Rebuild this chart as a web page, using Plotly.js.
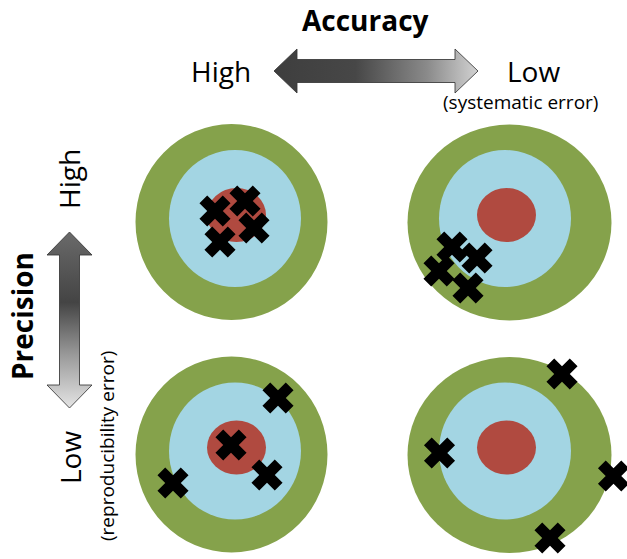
<!DOCTYPE html>
<html>
<head>
<meta charset="utf-8">
<script src="https://cdn.plot.ly/plotly-3.0.1.min.js"></script>
<style>
  html, body { margin: 0; padding: 0; background: #ffffff; }
  #chart { width: 627px; height: 559px; }
</style>
</head>
<body>
<div id="chart"></div>
<script>
// ---------------- data ----------------
// Axis labels
const accuracyTitle = 'Accuracy';
const precisionTitle = 'Precision';
const accuracyLevels = ['High', 'Low'];
const precisionLevels = ['High', 'Low'];
const accuracyNote = '(systematic error)';
const precisionNote = '(reproducibility error)';

// Hits on each target: offset from the bullseye (x right, y up), in target units
const hitsHighAccHighPrecX = [-20, 10, 19, -15];
const hitsHighAccHighPrecY = [7.5, 17.5, -9.5, -23.5];
const hitsLowAccHighPrecX  = [-53, -28, -66, -37];
const hitsLowAccHighPrecY  = [-28.5, -39.5, -52.5, -69.5];
const hitsHighAccLowPrecX  = [43, -4, 32, -62];
const hitsHighAccLowPrecY  = [53, 6, -24, -32];
const hitsLowAccLowPrecX   = [57, -65.5, 108.5, 45];
const hitsLowAccLowPrecY   = [77, -2, -25, -87];

// ---------------- layout / styling ----------------
const W = 627, H = 559;
const GREEN = '#85a24b', BLUE = '#a3d5e3', RED = '#b04a40';
const FONT = 'Open Sans, Lato, sans-serif';

// panel centres (screen space, y down)
const panelCenters = [
  {cx: 235, cy: 218.5, col: 0},
  {cx: 505, cy: 218.5, col: 1},
  {cx: 235, cy: 451,   col: 0},
  {cx: 505, cy: 451,   col: 1}
];
const hitSets = [
  [hitsHighAccHighPrecX, hitsHighAccHighPrecY],
  [hitsLowAccHighPrecX,  hitsLowAccHighPrecY],
  [hitsHighAccLowPrecX,  hitsHighAccLowPrecY],
  [hitsLowAccLowPrecX,   hitsLowAccLowPrecY]
];
// ring geometry per column
const greenRing = [{dx: -3.5, dy: 3.5, rx: 96, ry: 98}, {dx: 4.5, dy: 4, rx: 102, ry: 98}];
const blueRing = {rx: 66, ry: 68.5};
const redRing = {dx: 1.5, dy: -3.5, rx: 29.5, ry: 27};

const shapes = [];
panelCenters.forEach(p => {
  const g = greenRing[p.col];
  const gx = p.cx + g.dx, gy = p.cy + g.dy;
  shapes.push({type: 'circle', xref: 'x', yref: 'y', layer: 'below',
    x0: gx - g.rx, x1: gx + g.rx, y0: gy - g.ry, y1: gy + g.ry,
    fillcolor: GREEN, line: {width: 0}});
  shapes.push({type: 'circle', xref: 'x', yref: 'y', layer: 'below',
    x0: p.cx - blueRing.rx, x1: p.cx + blueRing.rx, y0: p.cy - blueRing.ry, y1: p.cy + blueRing.ry,
    fillcolor: BLUE, line: {width: 0}});
  const rx = p.cx + redRing.dx, ry = p.cy + redRing.dy;
  shapes.push({type: 'circle', xref: 'x', yref: 'y', layer: 'below',
    x0: rx - redRing.rx, x1: rx + redRing.rx, y0: ry - redRing.ry, y1: ry + redRing.ry,
    fillcolor: RED, line: {width: 0}});
});

const traces = [];

// arrows (gradient filled polygons)
function hArrow(x0, x1, yc, headLen, headHalf, shaftHalf) {
  return {
    x: [x0, x0 + headLen, x0 + headLen, x1 - headLen, x1 - headLen, x1, x1 - headLen, x1 - headLen, x0 + headLen, x0 + headLen, x0],
    y: [yc, yc - headHalf, yc - shaftHalf, yc - shaftHalf, yc - headHalf, yc, yc + headHalf, yc + shaftHalf, yc + shaftHalf, yc + headHalf, yc]
  };
}
function vArrow(y0, y1, xc, headLen, headHalf, shaftHalf) {
  return {
    y: [y0, y0 + headLen, y0 + headLen, y1 - headLen, y1 - headLen, y1, y1 - headLen, y1 - headLen, y0 + headLen, y0 + headLen, y0],
    x: [xc, xc + headHalf, xc + shaftHalf, xc + shaftHalf, xc + headHalf, xc, xc - headHalf, xc - shaftHalf, xc - shaftHalf, xc - headHalf, xc]
  };
}
const ha = hArrow(274, 478, 71, 23, 22, 11.5);
traces.push({type: 'scatter', mode: 'lines', x: ha.x, y: ha.y, fill: 'toself',
  fillcolor: '#777777',
  fillgradient: {type: 'horizontal', start: 274, stop: 478,
    colorscale: [[0, '#3e3e3e'], [0.4, '#474747'], [0.75, '#8a8a8a'], [1, '#d2d2d2']]},
  line: {color: 'rgba(55,55,55,0.85)', width: 1}, hoverinfo: 'skip', showlegend: false});
const va = vArrow(232, 408, 69.5, 23, 22.5, 10);
traces.push({type: 'scatter', mode: 'lines', x: va.x, y: va.y, fill: 'toself',
  fillcolor: '#777777',
  fillgradient: {type: 'vertical', start: 232, stop: 408,
    colorscale: [[0, '#6a6a6a'], [0.4, '#444444'], [0.7, '#9a9a9a'], [1, '#e4e4e4']]},
  line: {color: 'rgba(55,55,55,0.85)', width: 1}, hoverinfo: 'skip', showlegend: false});

// hits
hitSets.forEach((s, i) => {
  const p = panelCenters[i];
  const xs = s[0].map(v => p.cx + v);
  const ys = s[1].map(v => p.cy - v);
  traces.push({type: 'scatter', mode: 'markers', x: xs, y: ys,
    marker: {symbol: 'x', size: 27.5, color: '#000000', line: {width: 0}},
    hoverinfo: 'skip', showlegend: false});
});

const annotations = [
  {text: '<b>' + accuracyTitle + '</b>', x: 365, y: 20, font: {size: 28, color: '#000'}},
  {text: accuracyLevels[0], x: 221, y: 71, font: {size: 28, color: '#000'}},
  {text: accuracyLevels[1], x: 533, y: 71, font: {size: 28, color: '#000'}},
  {text: accuracyNote, x: 520, y: 102, font: {size: 19, color: '#000'}},
  {text: '<b>' + precisionTitle + '</b>', x: 22, y: 316, textangle: -90, font: {size: 28, color: '#000'}},
  {text: precisionLevels[0], x: 69, y: 179, textangle: -90, font: {size: 28, color: '#000'}},
  {text: precisionLevels[1], x: 70, y: 458, textangle: -90, font: {size: 28, color: '#000'}},
  {text: precisionNote, x: 107, y: 446, textangle: -90, font: {size: 19, color: '#000'}}
].map(a => Object.assign({xref: 'x', yref: 'y', showarrow: false, xanchor: 'center', yanchor: 'middle'}, a));

const layout = {
  width: W, height: H,
  margin: {l: 0, r: 0, t: 0, b: 0, pad: 0},
  paper_bgcolor: '#ffffff', plot_bgcolor: '#ffffff',
  font: {family: FONT, color: '#000'},
  xaxis: {range: [0, W], visible: false, fixedrange: true},
  yaxis: {range: [H, 0], visible: false, fixedrange: true},
  shapes: shapes,
  annotations: annotations,
  showlegend: false
};

Plotly.newPlot('chart', traces, layout, {displayModeBar: false, staticPlot: true});
</script>
</body>
</html>
